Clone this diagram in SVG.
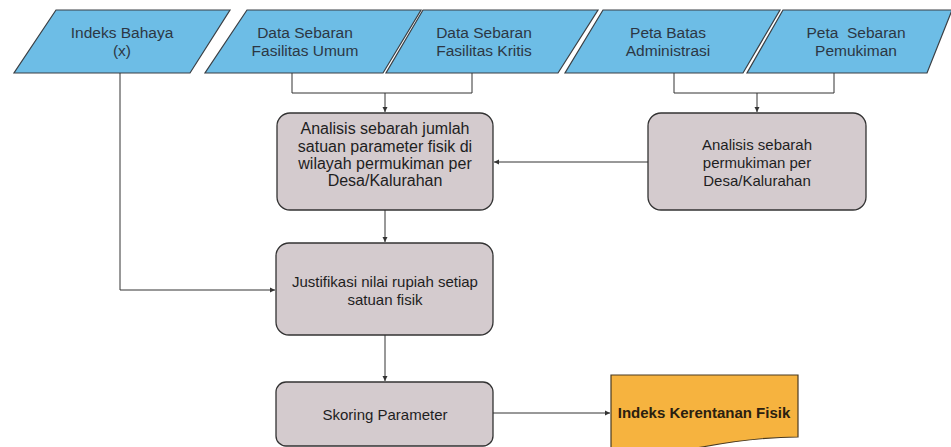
<svg xmlns="http://www.w3.org/2000/svg" width="951" height="447" viewBox="0 0 951 447">
<defs>
<marker id="arr" markerWidth="6" markerHeight="6" refX="5" refY="3" orient="auto" markerUnits="userSpaceOnUse">
<path d="M0,0.5 L5,3 L0,5.5 Z" fill="#333"/>
</marker>
<style>
.para{fill:#6dbde6;stroke:#3a3f44;stroke-width:1.2}
.box{fill:#d4cbce;stroke:#333;stroke-width:1.3}
.doc{fill:#f6b33f;stroke:#4a3a20;stroke-width:1.2}
.pt{font-family:"Liberation Sans",Arial,sans-serif;font-size:15.5px;fill:#2c3744;text-anchor:middle}
.bt{font-family:"Liberation Sans",Arial,sans-serif;font-size:15px;fill:#1e1e1e;text-anchor:middle}
.bl{font-size:16px}
.dt{font-family:"Liberation Sans",Arial,sans-serif;font-size:15px;font-weight:bold;fill:#2a2010;text-anchor:middle}
.c{fill:none;stroke:#333;stroke-width:1}
</style>
</defs>
<rect width="951" height="447" fill="#ffffff"/>

<g id="indeks-bahaya">
<polygon class="para" points="56,10 230,10 190,73 14,73"/>
<text class="pt" x="122" y="38">Indeks Bahaya</text>
<text class="pt" x="122" y="56">(x)</text>
</g>
<g id="data-fasilitas-umum">
<polygon class="para" points="247,10 421,10 383,73 205,73"/>
<text class="pt" x="305" y="38">Data Sebaran</text>
<text class="pt" x="305" y="56">Fasilitas Umum</text>
</g>
<g id="data-fasilitas-kritis">
<polygon class="para" points="423,10 598,10 558,73 386,73"/>
<text class="pt" x="484" y="38">Data Sebaran</text>
<text class="pt" x="484" y="56">Fasilitas Kritis</text>
</g>
<g id="peta-batas">
<polygon class="para" points="603,10 780,10 743,73 565,73"/>
<text class="pt" x="668" y="38">Peta Batas</text>
<text class="pt" x="668" y="56">Administrasi</text>
</g>
<g id="peta-pemukiman">
<polygon class="para" points="783,10 952,10 927,73 747,73"/>
<text class="pt" x="856" y="38" xml:space="preserve">Peta  Sebaran</text>
<text class="pt" x="856" y="56">Pemukiman</text>
</g>

<g id="analisis-fisik">
<rect class="box" x="277" y="113" width="216" height="97" rx="13"/>
<text class="bt bl" x="385" y="134">Analisis sebarah jumlah</text>
<text class="bt bl" x="385" y="152">satuan parameter fisik di</text>
<text class="bt bl" x="385" y="169">wilayah permukiman per</text>
<text class="bt bl" x="385" y="186">Desa/Kalurahan</text>
</g>
<g id="analisis-pemukiman">
<rect class="box" x="648" y="113" width="218" height="97" rx="13"/>
<text class="bt" x="757" y="150">Analisis sebarah</text>
<text class="bt" x="757" y="168">permukiman per</text>
<text class="bt" x="757" y="186">Desa/Kalurahan</text>
</g>
<g id="justifikasi">
<rect class="box" x="276" y="243" width="217" height="92" rx="13"/>
<text class="bt" x="385" y="287">Justifikasi nilai rupiah setiap</text>
<text class="bt" x="385" y="305">satuan fisik</text>
</g>
<g id="skoring">
<rect class="box" x="276" y="382" width="217" height="64" rx="10"/>
<text class="bt" x="385" y="420">Skoring Parameter</text>
</g>
<g id="indeks-kerentanan">
<path class="doc" d="M611,375 H798 V437 C765,437 735,441 702,447 C670,453 640,455 611,452 Z"/>
<text class="dt" x="704" y="418">Indeks Kerentanan Fisik</text>
</g>

<g id="connectors">
<polyline class="c" points="120,73 120,290 275,290" marker-end="url(#arr)"/>
<polyline class="c" points="292,73 292,93 472,93 472,73"/>
<line class="c" x1="385" y1="93" x2="385" y2="112" marker-end="url(#arr)"/>
<polyline class="c" points="674,73 674,93 834,93 834,73"/>
<line class="c" x1="757" y1="93" x2="757" y2="112" marker-end="url(#arr)"/>
<line class="c" x1="648" y1="162" x2="494" y2="162" marker-end="url(#arr)"/>
<line class="c" x1="385" y1="210" x2="385" y2="242" marker-end="url(#arr)"/>
<line class="c" x1="385" y1="335" x2="385" y2="381" marker-end="url(#arr)"/>
<line class="c" x1="493" y1="413" x2="610" y2="413" marker-end="url(#arr)"/>
</g>
</svg>
